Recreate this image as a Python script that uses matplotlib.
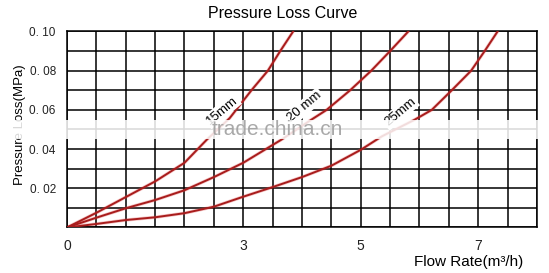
import matplotlib
matplotlib.use("Agg")
import matplotlib.pyplot as plt
from matplotlib.patches import Rectangle

plt.rcParams['font.family'] = ['Liberation Sans', 'DejaVu Sans']

# curve data (flow m3/h, pressure loss MPa)
x15 = [0, 0.5, 1.0, 1.5, 2.0, 2.38, 2.77, 3.14, 3.42, 3.63, 3.85]
y15 = [0, 0.0075, 0.0155, 0.0235, 0.033, 0.0448, 0.0558, 0.07, 0.08, 0.09, 0.10]

x20 = [0, 0.5, 1.0, 1.5, 2.0, 2.5, 3.0, 3.65, 4.16, 4.42, 4.82, 5.18, 5.5, 5.81]
y20 = [0, 0.005, 0.0098, 0.014, 0.019, 0.0257, 0.033, 0.0448, 0.055, 0.06, 0.07, 0.08, 0.09, 0.10]

x25 = [0, 0.5, 1.0, 1.5, 2.0, 2.5, 3.0, 3.5, 4.0, 4.5, 5.0, 5.36, 5.92, 6.21, 6.55, 6.88, 7.11, 7.33]
y25 = [0, 0.0018, 0.0038, 0.0052, 0.0073, 0.0106, 0.0157, 0.0206, 0.0257, 0.0315, 0.0396, 0.0465,
       0.055, 0.06, 0.07, 0.08, 0.09, 0.10]

curve_labels = ["15mm", "20 mm", "25mm"]
label_pos = [(2.64, 0.0596), (4.05, 0.0616), (5.67, 0.0588)]

xticks = [0, 3, 5, 7]
xtick_labels = ["0", "3", "5", "7"]
yticks = [0.02, 0.04, 0.06, 0.08, 0.10]
ytick_labels = ["0. 02", "0. 04", "0. 06", "0. 08", "0. 10"]

fig = plt.figure(figsize=(5.49, 2.73), dpi=100)
ax = fig.add_axes([0.122, 0.1667, 0.856, 0.718])

# grid every 0.5 / 0.01
for i in range(17):
    ax.axvline(i * 0.5, color='black', lw=1.1, zorder=1)
for i in range(11):
    ax.axhline(i * 0.01, color='black', lw=1.1, zorder=1)

red = '#a81c1c'
for xs, ys in [(x15, y15), (x20, y20), (x25, y25)]:
    ax.plot(xs, ys, color='#e04040', lw=2.4, alpha=0.3, zorder=2, solid_capstyle='round')
    ax.plot(xs, ys, color=red, lw=1.4, zorder=3)

for txt, (lx, ly) in zip(curve_labels, label_pos):
    ax.text(lx, ly, txt, rotation=40, ha='center', va='center', fontsize=9.5,
            bbox=dict(facecolor='white', edgecolor='none', pad=1.0), zorder=4)

ax.set_xlim(0, 8)
ax.set_ylim(0, 0.10)
ax.set_xticks(xticks)
ax.set_xticklabels(xtick_labels, fontsize=10)
ax.set_yticks(yticks)
ax.set_yticklabels(ytick_labels, fontsize=8.5)
ax.tick_params(length=0, pad=8, colors='#222222')
for s in ax.spines.values():
    s.set_color('black')
    s.set_linewidth(1.1)

fig.text(0.515, 0.95, "Pressure Loss Curve", ha='center', va='center', fontsize=11.5)
fig.text(0.953, 0.04, "Flow Rate(m³/h)", ha='right', va='center', fontsize=11)
fig.text(0.036, 0.545, "Pressure Loss(MPa)", rotation=90, ha='center', va='center', fontsize=9.5)

# watermark band
fig.patches.append(Rectangle((0, 0.49), 1, 0.07, transform=fig.transFigure,
                             facecolor='white', edgecolor='none', alpha=0.85, zorder=10))
fig.text(0.505, 0.525, "trade.china.cn", ha='center', va='center', fontsize=15,
         color='#a0a0a0', alpha=0.9, zorder=11)

fig.savefig("out.png", dpi=100)
